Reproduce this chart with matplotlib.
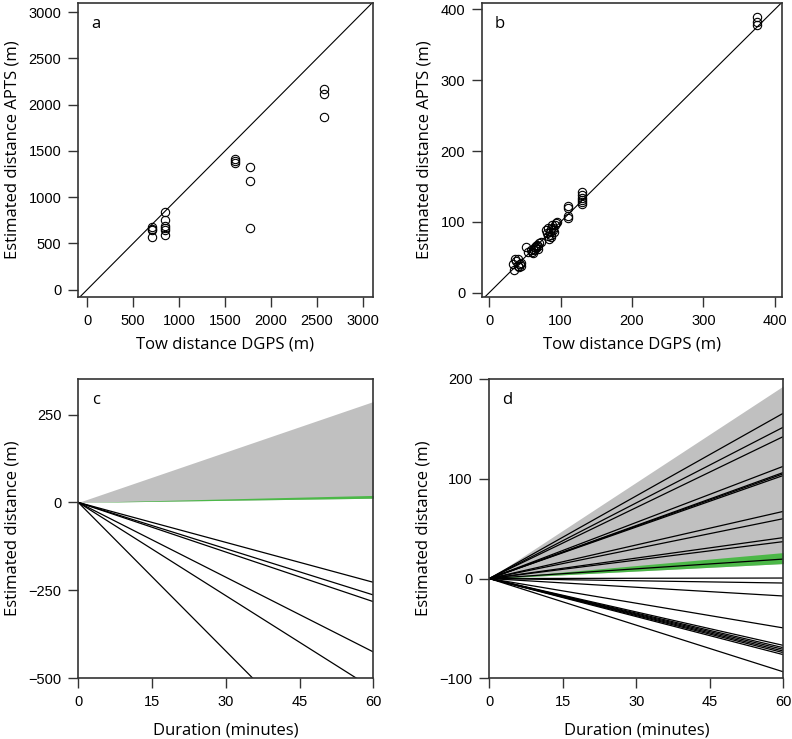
import numpy as np
import matplotlib.pyplot as plt

# panel a: tow distance DGPS vs APTS estimate (m)
a_dgps = [700, 700, 700, 700, 850, 850, 850, 850, 850, 850,
          1610, 1610, 1610, 1770, 1770, 1770, 2580, 2580, 2580]
a_apts = [673, 660, 648, 565, 835, 756, 684, 662, 648, 591,
          1418, 1390, 1368, 1328, 1177, 666, 2174, 2117, 1865]

# panel b
b_dgps = [33, 35, 38, 40, 42, 43, 44, 36, 40, 45,
          52, 54, 58, 60, 62, 63, 64, 65, 66, 67, 68, 70, 72, 69, 61,
          80, 81, 82, 83, 84, 85, 86, 87, 88, 89, 90, 92, 93, 95, 86, 91,
          110, 110, 110, 110,
          130, 130, 130, 130, 130, 130,
          375, 375, 375]
b_apts = [40, 32, 45, 38, 36, 40, 42, 48, 48, 38,
          65, 58, 60, 58, 62, 60, 64, 66, 63, 68, 66, 70, 72, 62, 56,
          88, 84, 80, 92, 76, 86, 90, 82, 95, 88, 92, 96, 98, 100, 78, 86,
          105, 108, 120, 123,
          125, 128, 131, 134, 138, 142,
          378, 382, 389]

# panels c, d: estimated distance after 60 min for each tow (m)
duration = [0, 60]
c_end = [-227, -263, -282, -425, -530, -845]
c_grey = (12, 287)
c_green = (12, 20)
d_end = [165.7, 151.7, 142.3, 112.5, 106.3, 105, 103.3, 67.3, 60, 41, 37,
         19.5, 0.5, -4.5, -17.5, -49.5, -67, -69.3, -71, -72.7, -74.3,
         -76.3, -93.5]
d_grey = (15, 193)
d_green = (15, 26)

GREY = '#c0c0c0'
GREEN = '#4cb848'
BOX = '#333333'
TICKFONT = 'Liberation Sans'
LABFONT = 'Open Sans'

fig = plt.figure(figsize=(7.92, 7.39), dpi=100)
ax_a = fig.add_axes([78 / 792, 1 - 297 / 739, 295 / 792, 294 / 739])
ax_b = fig.add_axes([482 / 792, 1 - 297 / 739, 300 / 792, 294 / 739])
ax_c = fig.add_axes([78.3 / 792, 1 - 678.3 / 739, 295 / 792, 299.3 / 739])
ax_d = fig.add_axes([489.3 / 792, 1 - 678.3 / 739, 294 / 792, 299.3 / 739])


def style(ax, letter):
    for s in ax.spines.values():
        s.set_color(BOX)
        s.set_linewidth(1.2)
    ax.tick_params(direction='out', length=7, width=1.0, color=BOX,
                   labelsize=10.5, pad=5)
    for lab in ax.get_xticklabels() + ax.get_yticklabels():
        lab.set_fontfamily(TICKFONT)
    ax.text(0.06, 0.955, letter, transform=ax.transAxes, ha='center',
            va='top', fontsize=12, family=LABFONT)


# a
ax_a.plot([-200, 3300], [-200, 3300], color='black', lw=0.8)
ax_a.plot(a_dgps, a_apts, 'o', mfc='none', mec='black', ms=6, mew=0.8)
ax_a.set_xlim(-100, 3110)
ax_a.set_ylim(-80, 3100)
ax_a.set_xticks(np.arange(0, 3001, 500))
ax_a.set_yticks(np.arange(0, 3001, 500))
ax_a.set_xlabel('Tow distance DGPS (m)', family=LABFONT, fontsize=12, labelpad=6)
ax_a.set_ylabel('Estimated distance APTS (m)', family=LABFONT, fontsize=12, labelpad=6)
style(ax_a, 'a')

# b
ax_b.plot([-20, 420], [-20, 420], color='black', lw=0.8)
ax_b.plot(b_dgps, b_apts, 'o', mfc='none', mec='black', ms=6, mew=0.8)
ax_b.set_xlim(-10, 410)
ax_b.set_ylim(-6, 409)
ax_b.set_xticks(np.arange(0, 401, 100))
ax_b.set_yticks(np.arange(0, 401, 100))
ax_b.set_xlabel('Tow distance DGPS (m)', family=LABFONT, fontsize=12, labelpad=6)
ax_b.set_ylabel('Estimated distance APTS (m)', family=LABFONT, fontsize=12, labelpad=6)
style(ax_b, 'b')


def rates(ax, ends, grey, green):
    t = np.array(duration, dtype=float)
    ax.fill_between(t, [0, grey[0]], [0, grey[1]], color=GREY, lw=0)
    ax.fill_between(t, [0, green[0]], [0, green[1]], color=GREEN, lw=0)
    for e in ends:
        ax.plot(t, [0, e], color='black', lw=0.9)
    ax.set_xlim(0, 60)
    ax.set_xticks([0, 15, 30, 45, 60])
    ax.set_xlabel('Duration (minutes)', family=LABFONT, fontsize=12, labelpad=10)
    ax.set_ylabel('Estimated distance (m)', family=LABFONT, fontsize=12, labelpad=6)


# c
rates(ax_c, c_end, c_grey, c_green)
ax_c.set_ylim(-500, 351)
ax_c.set_yticks([-500, -250, 0, 250])
style(ax_c, 'c')

# d
rates(ax_d, d_end, d_grey, d_green)
ax_d.set_ylim(-100, 200)
ax_d.set_yticks([-100, 0, 100, 200])
style(ax_d, 'd')

fig.savefig('out.png', dpi=100)
